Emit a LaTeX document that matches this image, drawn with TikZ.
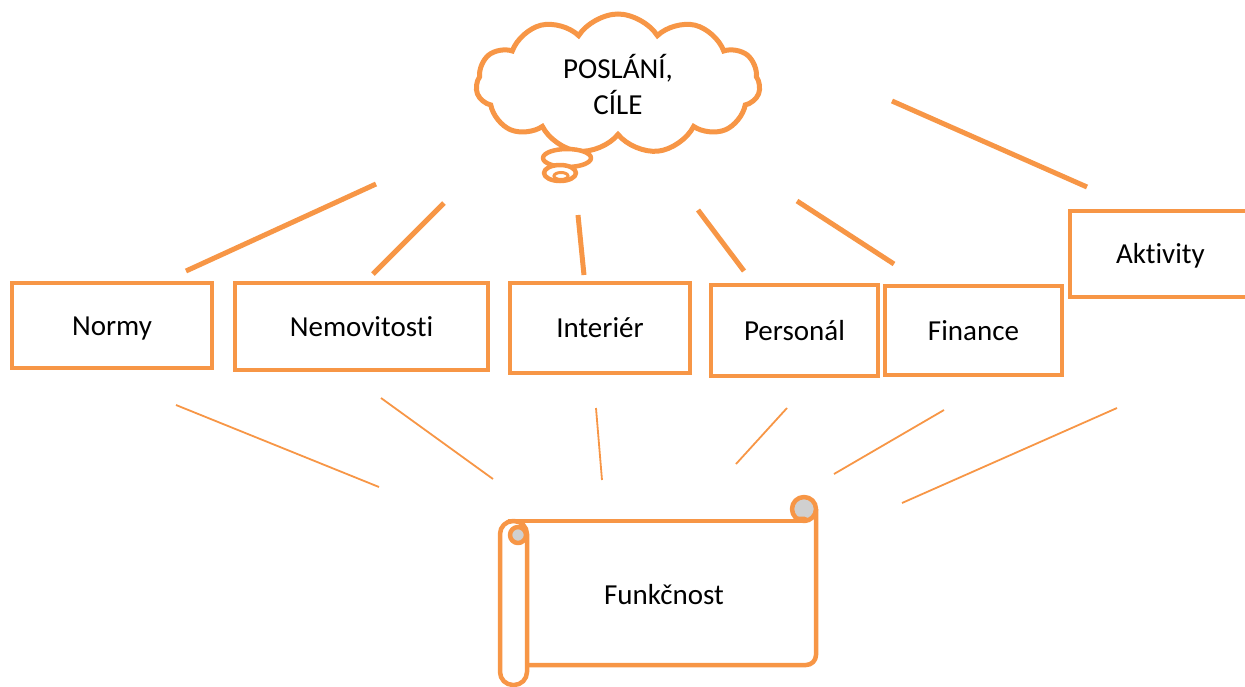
\documentclass[tikz,border=0pt]{standalone}
\usepackage{fontspec}
\setmainfont{Carlito}[RawFeature=-liga]
\usetikzlibrary{shapes.symbols}
\definecolor{accorange}{HTML}{F79646}
\definecolor{curlgray}{HTML}{D0D0D0}
\begin{document}
\begin{tikzpicture}[x=1pt,y=-1pt,
  every node/.style={font=\fontsize{29}{36}\selectfont},
  topicbox/.style={draw=accorange, line width=4.5pt, rectangle, inner sep=0pt, text height=19pt, text depth=0pt},
  thickconn/.style={draw=accorange, line width=5pt},
  thinconn/.style={draw=accorange, line width=1.8pt},
  orangeline/.style={draw=accorange, line width=4.5pt, line join=round}]
\useasboundingbox (0,0) rectangle (1245,686);
\clip (0,0) rectangle (1245,686);

% cloud
\node[cloud, cloud puffs=11, cloud puff arc=115, aspect=2, draw=accorange, line width=5pt,
      fill=white, minimum width=284pt, minimum height=140pt, inner sep=0pt, align=center]
      (cloud) at (618,84) {POSLÁNÍ,\\CÍLE};
\draw[orangeline, fill=white] (567,158) ellipse [x radius=24, y radius=9];
\draw[orangeline, fill=white] (560,173) ellipse [x radius=16, y radius=8];
\draw[accorange, line width=3pt] (561,176) ellipse [x radius=7, y radius=3.5];

% boxes
\node[topicbox, minimum width=200pt, minimum height=85pt] (normy) at (112,325.5) {Normy};
\node[topicbox, minimum width=253pt, minimum height=87pt] (nemo) at (361.5,326.5) {Nemovitosti};
\node[topicbox, minimum width=180pt, minimum height=90pt] (inter) at (600,328) {Interiér};
\node[topicbox, minimum width=167pt, minimum height=91pt] (pers) at (794.5,330.5) {Personál};
\node[topicbox, minimum width=177pt, minimum height=89pt] (fin) at (973.5,330.5) {Finance};
\node[topicbox, minimum width=190pt, minimum height=86pt, text width=190pt, align=left] (akt) at (1165,254) {\hspace*{46pt}Aktivity};

% scroll
\draw[orangeline] (508,521) -- (804,521);
\draw[orangeline] (816,509) -- (816,655) arc[start angle=0, end angle=90, radius=10] -- (527,665);
\draw[orangeline, fill=white, rounded corners=13pt] (500,521) rectangle (527,685);
\draw[orangeline, fill=curlgray] (518,535) circle[radius=8];
\draw[orangeline, fill=curlgray] (804,509) circle[radius=12];
\draw[accorange, line width=3pt] (798,518) -- (804,518) arc[start angle=-90, end angle=0, radius=4];
\node (funk) at (664,595) {Funkčnost};

% upper connectors
\coordinate (u1a) at (186,271); \coordinate (u1b) at (376,184);
\coordinate (u2a) at (373,274); \coordinate (u2b) at (444,203);
\coordinate (u3a) at (584,275); \coordinate (u3b) at (578,215);
\coordinate (u4a) at (744,271); \coordinate (u4b) at (698,210);
\coordinate (u5a) at (894,264); \coordinate (u5b) at (797,201);
\coordinate (u6a) at (1087,187); \coordinate (u6b) at (892,101);
\draw[thickconn] (u1a) -- (u1b);
\draw[thickconn] (u2a) -- (u2b);
\draw[thickconn] (u3a) -- (u3b);
\draw[thickconn] (u4a) -- (u4b);
\draw[thickconn] (u5a) -- (u5b);
\draw[thickconn] (u6a) -- (u6b);

% lower connectors
\coordinate (l1a) at (176,405); \coordinate (l1b) at (379,487);
\coordinate (l2a) at (381,398); \coordinate (l2b) at (493,479);
\coordinate (l3a) at (596,408); \coordinate (l3b) at (602,480);
\coordinate (l4a) at (787,408); \coordinate (l4b) at (736,464);
\coordinate (l5a) at (944,410); \coordinate (l5b) at (834,474);
\coordinate (l6a) at (1117,408); \coordinate (l6b) at (902,503);
\draw[thinconn] (l1a) -- (l1b);
\draw[thinconn] (l2a) -- (l2b);
\draw[thinconn] (l3a) -- (l3b);
\draw[thinconn] (l4a) -- (l4b);
\draw[thinconn] (l5a) -- (l5b);
\draw[thinconn] (l6a) -- (l6b);
\end{tikzpicture}
\end{document}
